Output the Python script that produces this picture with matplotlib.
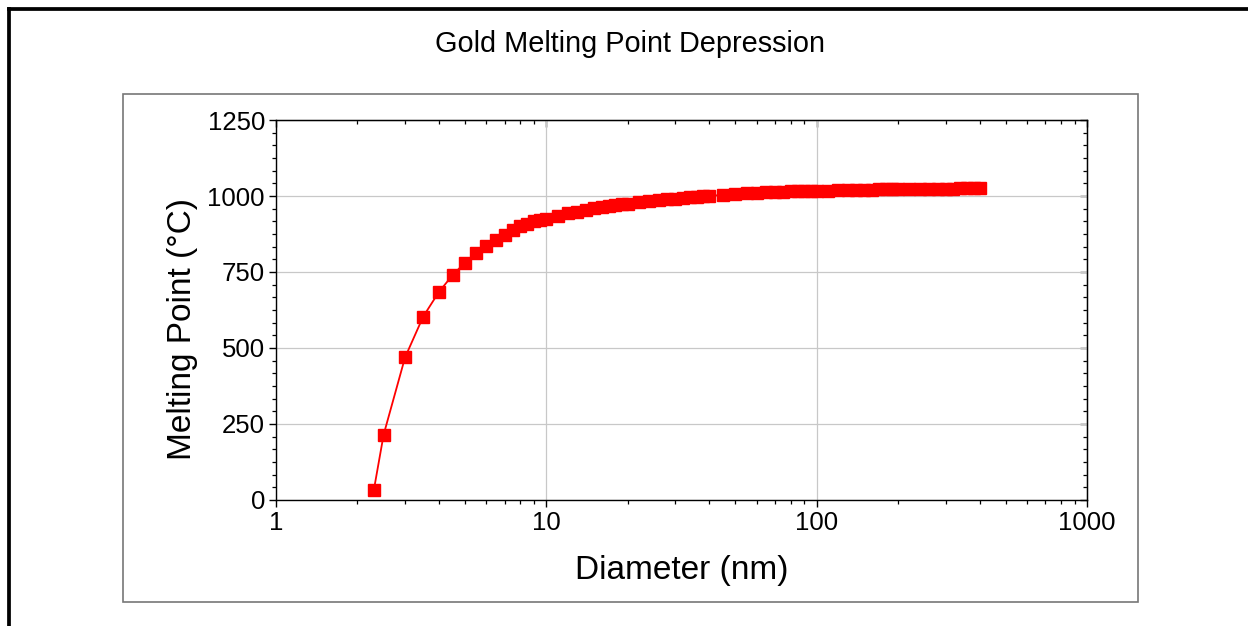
import matplotlib
matplotlib.use('Agg')
import matplotlib.pyplot as plt
from matplotlib.lines import Line2D
from matplotlib.patches import Rectangle
from matplotlib.ticker import AutoMinorLocator, FuncFormatter, NullFormatter

plt.rcParams['font.family'] = ['Liberation Sans', 'DejaVu Sans']

# diameter (nm) and melting point (deg C)
diameter = [2.3, 2.5, 3, 3.5, 4, 4.5, 5, 5.5, 6, 6.5, 7, 7.5, 8, 8.5, 9, 9.5,
            10, 11, 12, 13, 14, 15, 16, 17, 18, 19, 20, 22, 24, 26, 28, 30,
            32, 34, 36, 38, 40, 45, 50, 55, 60, 65, 70, 75, 80, 85, 90, 95,
            100, 110, 120, 130, 140, 150, 160, 170, 180, 190, 200, 220, 240,
            260, 280, 300, 320, 340, 360, 380, 400]
melting = [33, 215, 469, 603, 684, 740, 781, 811, 835, 855, 873, 888, 900, 909, 917, 922,
           925, 935, 943, 949, 955, 960, 964, 967, 970, 973, 975, 979, 983, 986, 989, 991,
           993, 996, 997, 999, 1000, 1004, 1007, 1009, 1011, 1012, 1013, 1014, 1015, 1016, 1016, 1017,
           1018, 1018, 1019, 1020, 1020, 1021, 1021, 1022, 1022, 1022, 1023, 1023, 1023,
           1024, 1024, 1024, 1024, 1025, 1025, 1025, 1025]

y_ticks = [0, 250, 500, 750, 1000, 1250]

fig = plt.figure(figsize=(12.48, 6.26), dpi=100)
ax = fig.add_axes([0.2212, 0.2013, 0.6499, 0.607])

ax.plot(diameter, melting, color='#ff0000', lw=1.3, marker='s', ms=8,
        mfc='#ff0000', mec='#ff0000', zorder=3)

ax.set_xscale('log')
ax.set_xlim(1, 1000)
ax.set_ylim(0, 1250)
ax.set_yticks(y_ticks)
ax.yaxis.set_minor_locator(AutoMinorLocator(6))
ax.xaxis.set_major_formatter(FuncFormatter(lambda v, p: f'{v:g}'))
ax.xaxis.set_minor_formatter(NullFormatter())
ax.grid(True, which='major', color='#c8c8c8', lw=0.9, zorder=0)
ax.set_axisbelow(True)

ax.tick_params(which='major', direction='out', length=5, width=1, labelsize=18.5, pad=3)
ax.tick_params(which='minor', direction='out', length=3, width=0.9)
for sp in ax.spines.values():
    sp.set_linewidth(1.0)

# top and right ticks point the same way as the bottom/left ones
secx = ax.secondary_xaxis('top')
secx.tick_params(which='major', direction='in', length=5, width=1)
secx.tick_params(which='minor', direction='in', length=3, width=0.9)
secx.xaxis.set_major_formatter(NullFormatter())
secx.xaxis.set_minor_formatter(NullFormatter())

secy = ax.secondary_yaxis('right')
secy.set_yticks(y_ticks)
secy.yaxis.set_minor_locator(AutoMinorLocator(6))
secy.tick_params(which='major', direction='in', length=5, width=1)
secy.tick_params(which='minor', direction='in', length=3, width=0.9)
secy.yaxis.set_major_formatter(NullFormatter())

ax.set_xlabel('Diameter (nm)', fontsize=24)
ax.set_ylabel('Melting Point (°C)', fontsize=24)
ax.xaxis.set_label_coords(0.5, -0.145)
ax.yaxis.set_label_coords(-0.096, 0.45)

fig.text(0.505, 1 - 52 / 626, 'Gold Melting Point Depression', ha='center', va='baseline',
         fontsize=20.8)

# gray frame around the plot and the black page border
fig.add_artist(Rectangle((0.0986, 0.0383), 0.8133, 0.8115, transform=fig.transFigure,
                         fill=False, ec='#777777', lw=1.2))
fig.add_artist(Line2D([9.2 / 1248, 9.2 / 1248], [0, 1 - 9.2 / 626], transform=fig.transFigure,
                      color='black', lw=2.7, solid_capstyle='projecting'))
fig.add_artist(Line2D([9.2 / 1248, 1], [1 - 9.2 / 626, 1 - 9.2 / 626], transform=fig.transFigure,
                      color='black', lw=2.7, solid_capstyle='projecting'))

fig.savefig('out.png', dpi=100)
